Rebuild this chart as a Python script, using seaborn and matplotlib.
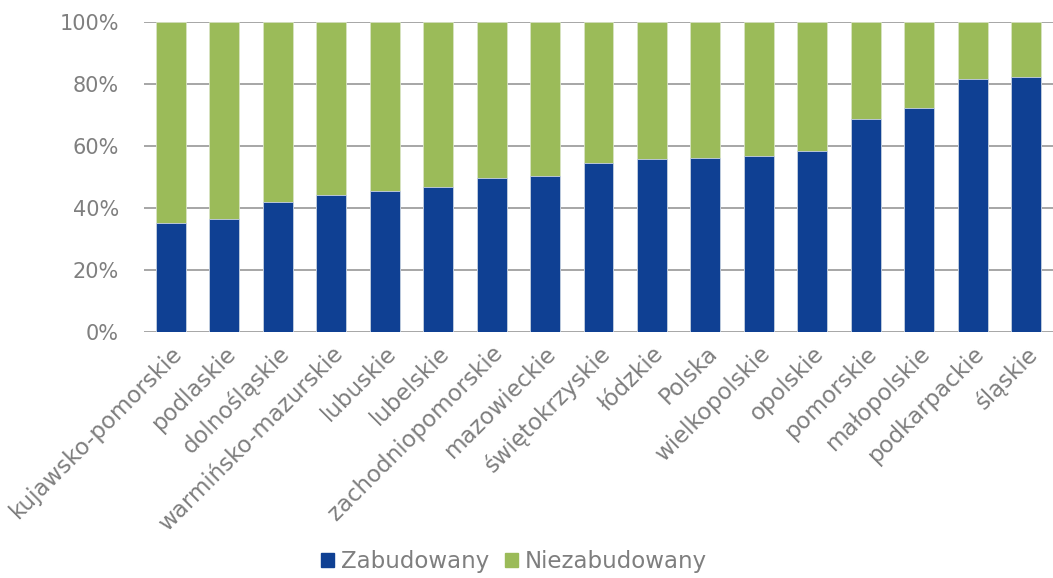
import matplotlib
matplotlib.use("Agg")
import matplotlib.pyplot as plt
import seaborn as sns
import pandas as pd
from matplotlib.patches import Patch
from matplotlib.ticker import FuncFormatter

regions = ["kujawsko-pomorskie", "podlaskie", "dolnośląskie", "warmińsko-mazurskie",
           "lubuskie", "lubelskie", "zachodniopomorskie", "mazowieckie",
           "świętokrzyskie", "łódzkie", "Polska", "wielkopolskie", "opolskie",
           "pomorskie", "małopolskie", "podkarpackie", "śląskie"]
zabudowany = [35.3, 36.4, 42.1, 44.3, 45.6, 46.7, 49.8, 50.3,
              54.5, 55.8, 56.3, 56.9, 58.6, 68.9, 72.4, 81.6, 82.4]
niezabudowany = [100 - v for v in zabudowany]

blue = "#0F4093"
green = "#9BBB59"
grey_text = "#7F7F7F"

df = pd.DataFrame({"region": regions, "zab": zabudowany, "niezab": niezabudowany})
df["total"] = df["zab"] + df["niezab"]

sns.set_style("white")
plt.rcParams["font.family"] = ["DejaVu Sans"]

fig = plt.figure(figsize=(10.53, 5.78), dpi=100)
ax = fig.add_axes([0.1368, 0.4256, 0.8632, 0.5355])

# stacked: green total behind, blue built-up share in front
sns.barplot(data=df, x="region", y="total", color=green, width=0.56,
            saturation=1, edgecolor="#d9e4c4", linewidth=0.6, ax=ax, zorder=2)
sns.barplot(data=df, x="region", y="zab", color=blue, width=0.56,
            saturation=1, edgecolor="#c9d3e6", linewidth=0.6, ax=ax, zorder=3)

ax.set_xlim(-0.5, len(regions) - 0.5)
ax.set_ylim(0, 100)
ax.set_yticks(range(0, 101, 20))
ax.yaxis.set_major_formatter(FuncFormatter(lambda v, p: f"{int(v)}%"))
ax.grid(axis="y", color="#A6A6A6", linewidth=1.4, zorder=0)
ax.set_axisbelow(True)
for s in ax.spines.values():
    s.set_visible(False)
ax.set_xlabel("")
ax.set_ylabel("")
ax.tick_params(axis="y", length=0, pad=18, labelsize=15, labelcolor=grey_text)
ax.tick_params(axis="x", length=0, pad=7, labelsize=16.5, labelcolor=grey_text)
plt.setp(ax.get_xticklabels(), rotation=45, ha="right", rotation_mode="anchor")

handles = [Patch(color=blue, label="Zabudowany"), Patch(color=green, label="Niezabudowany")]
fig.legend(handles=handles, loc="lower center", bbox_to_anchor=(0.488, -0.027), ncol=2,
           frameon=False, fontsize=16.5, labelcolor=grey_text, handlelength=0.55,
           handleheight=0.55, handletextpad=0.3, columnspacing=0.7)

fig.savefig("out.png", dpi=100)
